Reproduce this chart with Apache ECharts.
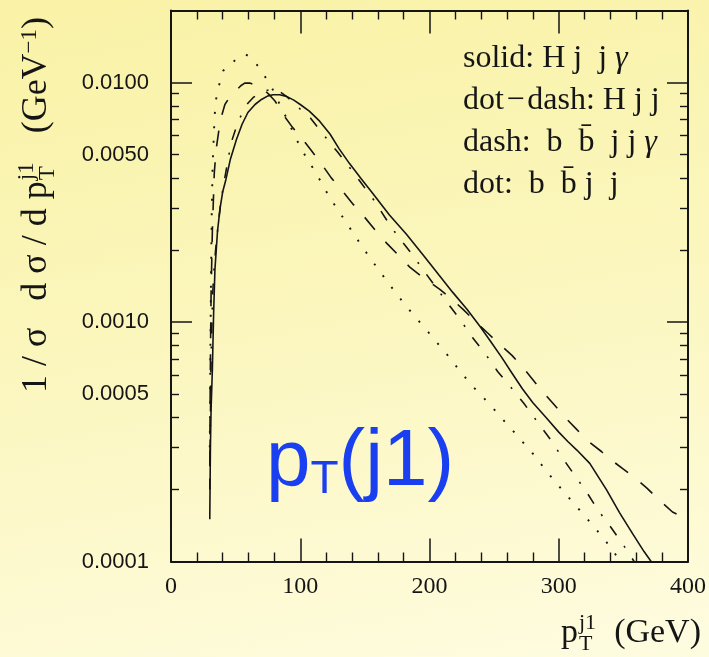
<!DOCTYPE html>
<html>
<head>
<meta charset="utf-8">
<script src="https://cdn.jsdelivr.net/npm/echarts@6/dist/echarts.min.js"></script>
<style>
html,body{margin:0;padding:0;}
body{background:linear-gradient(170deg,#F9F2A6 0%,#FBF6BC 45%,#FEFCE0 100%);width:709px;height:657px;overflow:hidden;}
#c{width:709px;height:657px;}
</style>
</head>
<body>
<div id="c"></div>
<script>
// ---------------- data ----------------
const seriesNames = ['solid: H j  j γ', 'dot\u200a\u2212\u200adash: H j j', 'dash:  b  b\u0304  j j γ', 'dot:  b  b\u0304 j  j'];

// solid: H j j gamma
const solidX = [30,30.5,31,32,33,34,36,38,40,42.5,46,50.7,55,59.5,65,70,75,79,84,89.4,95,100,107,115,123,130,138,147,156,169,182,196,207,218,229,239,248,256,264,272,280,290,300,307,314,324,337,347,357,366,375];
const solidY = [1.5e-4,3.0e-4,4.3e-4,6.3e-4,1.1e-3,1.66e-3,2.4e-3,3.0e-3,3.5e-3,3.94e-3,4.8e-3,5.8e-3,6.7e-3,7.5e-3,8.1e-3,8.5e-3,8.8e-3,8.9e-3,8.9e-3,8.76e-3,8.45e-3,8.1e-3,7.6e-3,6.9e-3,6.1e-3,5.3e-3,4.6e-3,3.98e-3,3.45e-3,2.8e-3,2.33e-3,1.88e-3,1.58e-3,1.33e-3,1.13e-3,9.6e-4,8.2e-4,7.1e-4,6.1e-4,5.25e-4,4.6e-4,4.0e-4,3.47e-4,3.17e-4,2.92e-4,2.57e-4,1.99e-4,1.6e-4,1.31e-4,1.1e-4,0.94e-4];

// dot-dash: H j j
const dotDashX = [30,30.5,31,32,33,34.5,36,38,40.5,43,46.5,52,56,59.5,64,70,75,80,85,90,95,100,108,117.6,128.6,138.2,147.9,157.5,166.6,175.5,185.9,194.8,204,214,224.5,233.4,243.5,252.7,263.1,272.8,282.4,294,303,312.6,321.8,330.7,340.3,352.5,358.3,362];
const dotDashY = [2.0e-4,4.0e-4,7.0e-4,1.2e-3,1.6e-3,2.0e-3,2.4e-3,3.0e-3,3.7e-3,4.4e-3,5.6e-3,6.9e-3,7.6e-3,8.2e-3,8.7e-3,9.1e-3,9.3e-3,9.35e-3,9.1e-3,8.7e-3,8.2e-3,7.75e-3,7.1e-3,6.09e-3,5.15e-3,4.42e-3,3.76e-3,3.2e-3,2.68e-3,2.28e-3,1.94e-3,1.66e-3,1.42e-3,1.2e-3,1.01e-3,8.59e-4,7.33e-4,6.22e-4,5.33e-4,4.59e-4,3.9e-4,3.21e-4,2.7e-4,2.28e-4,1.94e-4,1.63e-4,1.39e-4,1.12e-4,1.0e-4,0.93e-4];

// dash: b bbar j j gamma
const dashX = [30,30.3,30.6,31,32,33.5,35,37,39,41.7,46,50.7,54,57,61,66,71.3,76,80.3,88,94,99.6,108,116.6,124,132.8,141,149.8,158,167,176,185,196,208,217,226,235,245,254,264,275,286,296,306.6,313.5,322,333,342,350,358,368,377.6,388,394,400];
const dashY = [2.5e-4,5.0e-4,8.0e-4,1.3e-3,2.4e-3,4.2e-3,5.3e-3,6.3e-3,7.2e-3,8.1e-3,8.8e-3,9.3e-3,9.7e-3,9.95e-3,9.95e-3,9.75e-3,9.4e-3,8.9e-3,8.4e-3,7.2e-3,6.5e-3,6.0e-3,5.25e-3,4.56e-3,4.0e-3,3.52e-3,3.1e-3,2.74e-3,2.42e-3,2.13e-3,1.9e-3,1.69e-3,1.52e-3,1.37e-3,1.25e-3,1.13e-3,1.01e-3,9.0e-4,8.1e-4,7.24e-4,6.2e-4,5.23e-4,4.55e-4,3.91e-4,3.58e-4,3.2e-4,2.88e-4,2.62e-4,2.43e-4,2.26e-4,2.03e-4,1.81e-4,1.61e-4,1.55e-4,1.57e-4];

// dot: b bbar j j
const dotX = [30,30.5,31,31.5,32.2,32.7,33.2,33.7,34.7,36,37.3,40.4,44,48.9,53,57.9,62,66.2,72.6,78.5,83.4,90,97,105,111.2,122.8,135.7,148.5,161.4,175,187,197.4,204.4,212,219.3,226.3,233.4,241.2,248.9,256,263.8,271.3,280,290.6,305,320.2,334.6,341.5,347.5,352];
const dotY = [3.0e-4,8.0e-4,1.6e-3,2.8e-3,4.5e-3,5.27e-3,6.1e-3,7.2e-3,8.4e-3,9.2e-3,9.8e-3,1.12e-2,1.18e-2,1.23e-2,1.28e-2,1.31e-2,1.27e-2,1.194e-2,1.062e-2,9.4e-3,8.27e-3,7.0e-3,5.8e-3,4.82e-3,4.28e-3,3.31e-3,2.6e-3,2.04e-3,1.63e-3,1.3e-3,1.08e-3,9.3e-4,8.37e-4,7.5e-4,6.68e-4,5.99e-4,5.39e-4,4.87e-4,4.38e-4,3.96e-4,3.55e-4,3.19e-4,2.82e-4,2.38e-4,1.92e-4,1.55e-4,1.25e-4,1.12e-4,1.0e-4,0.93e-4];

// axes
const xMin = 0, xMax = 400, xStep = 100;
const yMin = 0.0001, yMax = 0.02;
const yTickLabels = [0.0001, 0.0005, 0.0010, 0.0050, 0.0100];
const yMajorTicks = [0.0001, 0.001, 0.01];
const yMinorTicks = [0.0002,0.0003,0.0004,0.0005,0.0006,0.0007,0.0008,0.0009,0.002,0.003,0.004,0.005,0.006,0.007,0.008,0.009];

// ---------------- helpers ----------------
const ink = '#151515';
const mctx = document.createElement('canvas').getContext('2d');
function tw(t, f){ mctx.font = f; return mctx.measureText(t).width; }
function pairs(xs, ys){ return xs.map((x, i) => [x, ys[i]]); }
const lg = v => Math.log10(v);

const chart = echarts.init(document.getElementById('c'), null, {renderer: 'canvas'});

const grid = {left: 171, top: 10.5, width: 518, height: 551, containLabel: false};

function xAxisDef(pos, showLabel){
  return {
    type: 'value', position: pos, min: xMin, max: xMax, interval: xStep,
    axisLine: {show: true, onZero: false, lineStyle: {color: ink, width: 2}},
    axisTick: {show: true, inside: true, length: 23, lineStyle: {color: ink, width: 1.5}},
    minorTick: {show: true, splitNumber: 5, length: 9, lineStyle: {color: ink, width: 1.4}},
    axisLabel: {show: showLabel, margin: 13, color: ink, fontFamily: 'Liberation Serif', fontSize: 24},
    splitLine: {show: false}, minorSplitLine: {show: false}
  };
}
function yRuler(pos, opts){
  return Object.assign({
    type: 'value', position: pos, min: lg(yMin), max: lg(yMax),
    axisLine: {show: false, onZero: false},
    axisTick: {show: false},
    axisLabel: {show: false},
    splitLine: {show: false}
  }, opts);
}

const yAxes = [
  {type: 'log', logBase: 10, min: yMin, max: yMax, show: false},
  yRuler('left', {
    axisLine: {show: true, onZero: false, lineStyle: {color: ink, width: 2}},
    axisTick: {show: true, inside: true, length: 21, lineStyle: {color: ink, width: 1.5}, customValues: yMajorTicks.map(lg)},
    axisLabel: {show: true, margin: 22, color: ink, fontFamily: 'Liberation Sans', fontSize: 22, padding: [7,0,0,0],
      customValues: yTickLabels.map(lg), formatter: v => Math.pow(10, v).toFixed(4)}
  }),
  yRuler('left', {
    axisTick: {show: true, inside: true, length: 8, lineStyle: {color: ink, width: 1.4}, customValues: yMinorTicks.map(lg)}
  }),
  yRuler('right', {
    axisLine: {show: true, onZero: false, lineStyle: {color: ink, width: 2}},
    axisTick: {show: true, inside: true, length: 21, lineStyle: {color: ink, width: 1.5}, customValues: yMajorTicks.map(lg)}
  }),
  yRuler('right', {
    axisTick: {show: true, inside: true, length: 8, lineStyle: {color: ink, width: 1.4}, customValues: yMinorTicks.map(lg)}
  })
];

function lineSeries(name, xs, ys, type, width){
  return {
    name: name, type: 'line', xAxisIndex: 0, yAxisIndex: 0,
    data: pairs(xs, ys), showSymbol: false, symbol: 'none', smooth: false, clip: true,
    lineStyle: {color: ink, width: width, type: type, cap: 'butt'},
    emphasis: {disabled: true}, animation: false, z: 3
  };
}

// ---------- text layout: axis titles ----------
const fsY = 36, fsYs = 23;
const fY = fsY + 'px "Liberation Serif"', fYs = fsYs + 'px "Liberation Serif"';
const yA = '1 / σ   d σ / d p';
const yC1 = '   (GeV', yC2 = '\u22121', yC3 = ')';
const wA = tw(yA, fY);
const wStack = Math.max(tw('j1', fYs), tw('T', fYs)) + 2;
const wC = tw(yC1, fY) + tw(yC2, fYs) + tw(yC3, fY);
const yLabelLen = wA + 1 + wStack + wC;
const yLabelCenter = 205;
const mid = 0.34;

const yLabelGroup = {
  type: 'group', x: 49 - mid * fsY, y: yLabelCenter + yLabelLen / 2, rotation: Math.PI / 2, z: 50,
  children: [
    {type: 'text', x: 0, y: 0, style: {text: yA, font: fY, fill: ink, align: 'left', verticalAlign: 'middle'}},
    {type: 'text', x: wA + 1, y: mid * fsY - 14 - mid * fsYs, style: {text: 'j1', font: fYs, fill: ink, align: 'left', verticalAlign: 'middle'}},
    {type: 'text', x: wA + 1, y: mid * fsY + 7 - mid * fsYs, style: {text: 'T', font: fYs, fill: ink, align: 'left', verticalAlign: 'middle'}},
    {type: 'text', x: wA + 1 + wStack, y: 0, style: {
      text: '{m|' + yC1 + '}{s|' + yC2 + '}{m|' + yC3 + '}', align: 'left', verticalAlign: 'middle', fill: ink, font: fY,
      rich: {m: {fontFamily: 'Liberation Serif', fontSize: fsY, fill: ink, color: ink},
             s: {fontFamily: 'Liberation Serif', fontSize: fsYs, fill: ink, color: ink, verticalAlign: 'top'}}}}
  ]
};

const fsX = 34, fsXs = 22;
const fX = fsX + 'px "Liberation Serif"', fXs = fsXs + 'px "Liberation Serif"';
const xBase = 645, xLeft = 561, xRight = 701;
const wp = tw('p', fX);
const xTitle = [
  {type: 'text', x: xLeft, y: xBase - mid * fsX, z: 50, style: {text: 'p', font: fX, fill: ink, align: 'left', verticalAlign: 'middle'}},
  {type: 'text', x: xLeft + wp + 1, y: xBase - 14 - mid * fsXs, z: 50, style: {text: 'j1', font: fXs, fill: ink, align: 'left', verticalAlign: 'middle'}},
  {type: 'text', x: xLeft + wp + 1, y: xBase + 7 - mid * fsXs, z: 50, style: {text: 'T', font: fXs, fill: ink, align: 'left', verticalAlign: 'middle'}},
  {type: 'text', x: xRight, y: xBase - mid * fsX, z: 50, style: {text: '(GeV)', font: fX, fill: ink, align: 'right', verticalAlign: 'middle'}}
];

const blue = '#1a3ff0';
const bigLabel = {
  type: 'text', x: 266, y: 463, z: 50,
  style: {
    text: '{a|p}{b|T}{a|(j1)}', align: 'left', verticalAlign: 'middle', fill: blue,
    font: '80px "Liberation Sans"',
    rich: {a: {fontFamily: 'Liberation Sans', fontSize: 80, fill: blue, color: blue, verticalAlign: 'bottom'},
           b: {fontFamily: 'Liberation Sans', fontSize: 46, fill: blue, color: blue, verticalAlign: 'bottom'}}
  }
};

const option = {
  backgroundColor: 'transparent',
  animation: false,
  grid: grid,
  xAxis: [xAxisDef('bottom', true), xAxisDef('top', false)],
  yAxis: yAxes,
  legend: {
    show: true, orient: 'vertical', left: 458, top: 43, itemGap: 10, itemWidth: 0, itemHeight: 32,
    icon: 'none', selectedMode: false, padding: 0,
    data: seriesNames,
    formatter: name => name.replace('γ', '{g|γ}'),
    textStyle: {fontFamily: 'Liberation Serif', fontSize: 32, color: ink,
      rich: {g: {fontFamily: 'Liberation Serif', fontSize: 32, fontStyle: 'italic', color: ink}}}
  },
  series: [
    lineSeries(seriesNames[0], solidX, solidY, 'solid', 1.6),
    lineSeries(seriesNames[1], dotDashX, dotDashY, [11, 13, 2, 13], 1.6),
    lineSeries(seriesNames[2], dashX, dashY, [16, 16], 1.6),
    lineSeries(seriesNames[3], dotX, dotY, [2, 12.5], 1.9)
  ],
  graphic: [yLabelGroup].concat(xTitle).concat([bigLabel])
};
chart.setOption(option);
</script>
</body>
</html>
